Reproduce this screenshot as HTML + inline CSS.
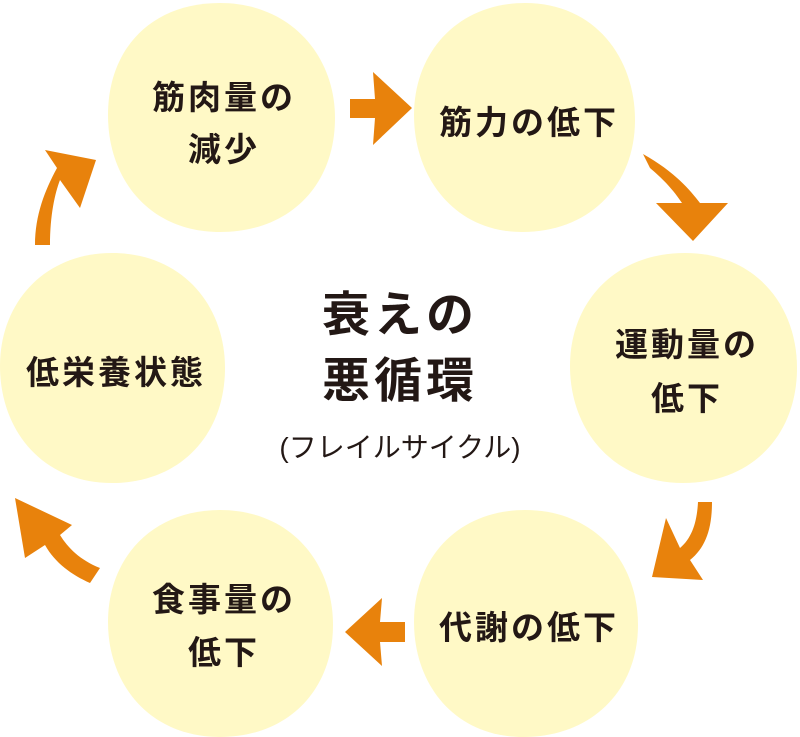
<!DOCTYPE html>
<html><head><meta charset="utf-8"><style>
html,body{margin:0;padding:0;background:#fff}
svg{display:block}
text{font-family:"Liberation Sans","Noto Sans CJK JP",sans-serif;fill:#231815;font-weight:bold}
</style></head><body>
<svg width="800" height="737" viewBox="0 0 800 737">
<g fill="#fff9c6">
<path d="M220,3 C290,3 335,55 335,118 C335,185 290,232 220,232 C150,232 108,180 108,115 C108,50 150,3 220,3Z"/>
<path d="M525,3 C595,3 635,58 635,120 C635,185 590,232 522,232 C455,232 414,178 414,115 C414,52 458,3 525,3Z"/>
<path d="M685,253 C755,253 797,305 797,368 C797,435 752,483 683,483 C613,483 570,430 570,366 C570,302 615,253 685,253Z"/>
<path d="M525,510 C595,510 638,562 638,625 C638,690 592,737 523,737 C455,737 414,685 414,622 C414,558 458,510 525,510Z"/>
<path d="M220,510 C290,510 333,562 333,625 C333,690 288,737 220,737 C150,737 108,685 108,622 C108,558 152,510 220,510Z"/>
<path d="M112,253 C182,253 225,305 225,368 C225,435 180,483 112,483 C42,483 0,430 0,366 C0,302 45,253 112,253Z"/>
</g>
<g fill="#e8820c">
<path d="M350,99 L375,99 L373,72 L412,108 L373,145 L375,118 L350,118Z"/>
<path d="M643,154 C675,172 690,190 700,203 L728,203 L693,241 L656,203 L682,203 C670,185 658,175 650,168Z"/>
<path d="M698,502 L712,502 C712,530 705,548 690,560 L703,580 L652,577 L666,518 L680,548 C692,538 697,522 698,502Z"/>
<path d="M405,622 L380,622 L382,598 L345,632 L382,666 L380,642 L405,642Z"/>
<path d="M100,568 C80,560 68,548 60,535 L72,525 L15,498 L25,558 L45,545 C55,563 72,575 90,583Z"/>
<path d="M35,245 L50,245 C50,215 55,193 60,180 L80,208 L96,160 L45,150 L57,168 C45,190 35,215 35,245Z"/>
</g>
<g font-size="33" text-anchor="middle" letter-spacing="3">
<text x="224" y="109">筋肉量の</text>
<text x="224" y="161">減少</text>
<text x="529" y="134">筋力の低下</text>
<text x="687" y="356">運動量の</text>
<text x="687" y="410">低下</text>
<text x="529" y="639">代謝の低下</text>
<text x="224" y="611">食事量の</text>
<text x="224" y="664">低下</text>
<text x="116" y="384">低栄養状態</text>
</g>
<text x="400" y="331" font-size="48" text-anchor="middle" letter-spacing="4">衰えの</text>
<text x="400" y="397" font-size="48" text-anchor="middle" letter-spacing="4">悪循環</text>
<text x="400" y="457" font-size="28" text-anchor="middle" style="font-weight:normal">(フレイルサイクル)</text>
</svg>
</body></html>
